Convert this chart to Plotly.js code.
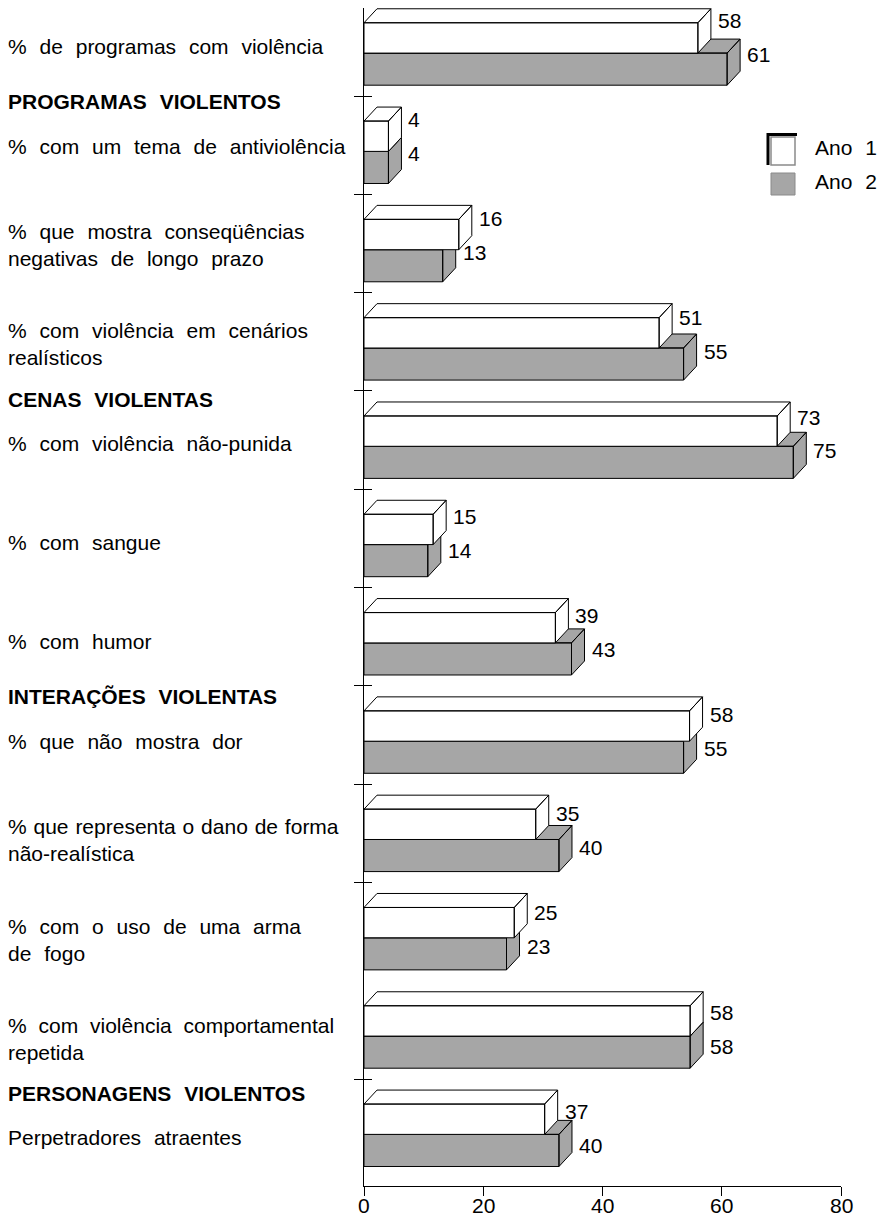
<!DOCTYPE html>
<html>
<head>
<meta charset="utf-8">
<script src="https://cdn.plot.ly/plotly-3.0.1.min.js"></script>
<style>
  html, body { margin: 0; padding: 0; background: #ffffff; }
  #chart { width: 880px; height: 1218px; }
  .annotation-text { word-spacing: 7px; }
</style>
</head>
<body>
<div id="chart"></div>
<script>
// ---------------- DATA ----------------
const categories = [
  "% de programas com violência",
  "% com um tema de antiviolência",
  "% que mostra conseqüências<br>negativas de longo prazo",
  "% com violência em cenários<br>realísticos",
  "% com violência não-punida",
  "% com sangue",
  "% com humor",
  "% que não mostra dor",
  "% que representa o dano de forma<br>não-realística",
  "% com o uso de uma arma<br>de fogo",
  "% com violência comportamental<br>repetida",
  "Perpetradores atraentes"
];
const sections = ["PROGRAMAS VIOLENTOS", "CENAS VIOLENTAS", "INTERAÇÕES VIOLENTAS", "PERSONAGENS VIOLENTOS"];
const sectionStartIndex = [1, 4, 7, 11];
const seriesNames = ["Ano 1", "Ano 2"];
// values printed next to the bars
const ano1 = [58, 4, 16, 51, 73, 15, 39, 58, 35, 25, 58, 37];
const ano2 = [61, 4, 13, 55, 75, 14, 43, 55, 40, 23, 58, 40];
// bar lengths as drawn in the reference (its bars are not drawn to the scale of their labels)
const ano1Drawn = [56.0, 4.1, 15.9, 49.5, 69.3, 11.6, 32.1, 54.6, 28.8, 25.2, 54.7, 30.3];
const ano2Drawn = [60.9, 4.1, 13.2, 53.6, 72.0, 10.7, 34.8, 53.6, 32.7, 23.9, 54.7, 32.7];
const xTickValues = [0, 20, 40, 60, 80];
const rowBoundaryTicks = [1, 2, 3, 4, 5, 6, 7, 8, 9, 11];

// ---------------- LAYOUT / STYLE ----------------
const W = 880, H = 1218;
const M = { l: 364, r: 39, t: 8, b: 32 };
const plotW = W - M.l - M.r, plotH = H - M.t - M.b;
const X_RANGE = [0, 80];
const ROW_PX = 98.3, ROW0_PX = -2.3;            // row boundary k sits at ROW0_PX + ROW_PX*k
const yTop = (M.t - ROW0_PX) / ROW_PX;
const yBot = (H - M.b - ROW0_PX) / ROW_PX;
const DX = 13 * (X_RANGE[1] - X_RANGE[0]) / plotW;  // 3-D depth, x (axis units)
const DY = 14 / ROW_PX;                             // 3-D depth, y (row units)
const FRONT_TOP = 0.255, FRONT_MID = 0.5635, FRONT_BOT = 0.89;
const LABEL_DRIFT = 0.009;       // the reference's text column is set on a slightly looser pitch than its rows
const GRAY = "#a6a6a6";
const FONT = { family: "'Liberation Sans', Arial, Helvetica, sans-serif", size: 21, color: "#000000" };
// lines whose words are set closer together in the reference
const tightWordSpacing = { "% que representa o dano de forma": 1, "% com violência comportamental": 6 };

function px2paperX(px) { return (px - M.l) / plotW; }
function px2paperY(py) { return 1 - (py - M.t) / plotH; }
function textRow(i, off) { return i * (1 + LABEL_DRIFT) + off; }

function styledLabel(text) {
  return text.split("<br>").map(line =>
    (line in tightWordSpacing)
      ? '<span style="word-spacing:' + tightWordSpacing[line] + 'px">' + line + '</span>'
      : line
  ).join("<br>");
}

function boxPolys(L, t, b) {
  const xs = [], ys = [];
  const add = (pts) => { pts.forEach(p => { xs.push(p[0]); ys.push(p[1]); }); xs.push(null); ys.push(null); };
  add([[0, t], [L, t], [L, b], [0, b], [0, t]]);                                  // front
  add([[0, t], [DX, t - DY], [L + DX, t - DY], [L, t], [0, t]]);                 // top
  add([[L, t], [L + DX, t - DY], [L + DX, b - DY], [L, b], [L, t]]);             // side
  return { xs, ys };
}

function seriesTrace(lengths, topOff, botOff, fill, name) {
  let X = [], Y = [];
  lengths.forEach((L, i) => {
    const p = boxPolys(L, i + topOff, i + botOff);
    X = X.concat(p.xs); Y = Y.concat(p.ys);
  });
  return {
    type: "scatter", mode: "lines", x: X, y: Y, name: name,
    fill: "toself", fillcolor: fill,
    line: { color: "#000000", width: 1 },
    hoverinfo: "skip", showlegend: false, connectgaps: false
  };
}

const traces = [
  seriesTrace(ano2Drawn, FRONT_MID, FRONT_BOT, GRAY, seriesNames[1]),
  seriesTrace(ano1Drawn, FRONT_TOP, FRONT_MID, "#ffffff", seriesNames[0]),
  { type: "scatter", x: [null], y: [null], yaxis: "y2", hoverinfo: "skip", showlegend: false }
];

const annotations = [];
// value labels
ano1.forEach((v, i) => annotations.push({
  x: ano1Drawn[i], y: textRow(i, 0.23), xref: "x", yref: "y", text: String(v),
  showarrow: false, xanchor: "left", yanchor: "middle", xshift: 18, font: FONT
}));
ano2.forEach((v, i) => annotations.push({
  x: ano2Drawn[i], y: textRow(i, 0.575), xref: "x", yref: "y", text: String(v),
  showarrow: false, xanchor: "left", yanchor: "middle", xshift: 18, font: FONT
}));
// category labels
categories.forEach((c, i) => annotations.push({
  x: px2paperX(6), y: textRow(i, 0.50), xref: "paper", yref: "y", text: styledLabel(c), align: "left",
  showarrow: false, xanchor: "left", yanchor: "middle", font: FONT
}));
// section headers (set just above the first label of their block)
sections.forEach((s, j) => annotations.push({
  x: px2paperX(6), y: textRow(sectionStartIndex[j], 0.50) - 0.45, xref: "paper", yref: "y",
  text: "<b>" + s + "</b>", align: "left",
  showarrow: false, xanchor: "left", yanchor: "middle", font: FONT
}));
// x tick labels
xTickValues.forEach(v => annotations.push({
  x: v, y: 0, xref: "x", yref: "paper", text: String(v), borderpad: 0,
  showarrow: false, xanchor: "center", yanchor: "top", yshift: -7, font: FONT
}));
// legend texts
seriesNames.forEach((n, j) => annotations.push({
  x: px2paperX(813), y: px2paperY(j === 0 ? 147 : 182), xref: "paper", yref: "paper",
  text: n, showarrow: false, xanchor: "left", yanchor: "middle", font: FONT
}));

const shapes = [
  // legend key Ano 1 (white, with dark top-left edge)
  { type: "rect", xref: "paper", yref: "paper",
    x0: px2paperX(771), x1: px2paperX(795), y0: px2paperY(165), y1: px2paperY(137),
    fillcolor: "#ffffff", line: { color: "#8a8a8a", width: 1.5 } },
  { type: "path", xref: "paper", yref: "paper",
    path: "M " + px2paperX(768) + " " + px2paperY(165) + " L " + px2paperX(768) + " " + px2paperY(134.5) +
          " L " + px2paperX(797) + " " + px2paperY(134.5),
    line: { color: "#000000", width: 3 } },
  // legend key Ano 2 (gray)
  { type: "rect", xref: "paper", yref: "paper",
    x0: px2paperX(771), x1: px2paperX(795), y0: px2paperY(195), y1: px2paperY(173),
    fillcolor: GRAY, line: { color: "#8a8a8a", width: 1 } }
];

const layout = {
  width: W, height: H,
  margin: M,
  paper_bgcolor: "#ffffff", plot_bgcolor: "#ffffff",
  font: FONT,
  showlegend: false,
  xaxis: {
    range: X_RANGE, tickvals: xTickValues, showticklabels: false,
    ticks: "outside", ticklen: 9, tickwidth: 1, tickcolor: "#000000",
    showline: true, linecolor: "#000000", linewidth: 1,
    showgrid: false, zeroline: false, fixedrange: true
  },
  yaxis: {
    range: [yBot, yTop], tickvals: rowBoundaryTicks, showticklabels: false,
    ticks: "outside", ticklen: 9, tickwidth: 1, tickcolor: "#000000",
    showline: true, linecolor: "#000000", linewidth: 1,
    showgrid: false, zeroline: false, fixedrange: true
  },
  yaxis2: {
    overlaying: "y", anchor: "x", side: "left",
    range: [yBot, yTop], tickvals: rowBoundaryTicks, showticklabels: false,
    ticks: "inside", ticklen: 8, tickwidth: 1, tickcolor: "#000000",
    showline: false, showgrid: false, zeroline: false, fixedrange: true
  },
  annotations: annotations,
  shapes: shapes
};

Plotly.newPlot("chart", traces, layout, { displayModeBar: false, responsive: false });
</script>
</body>
</html>
